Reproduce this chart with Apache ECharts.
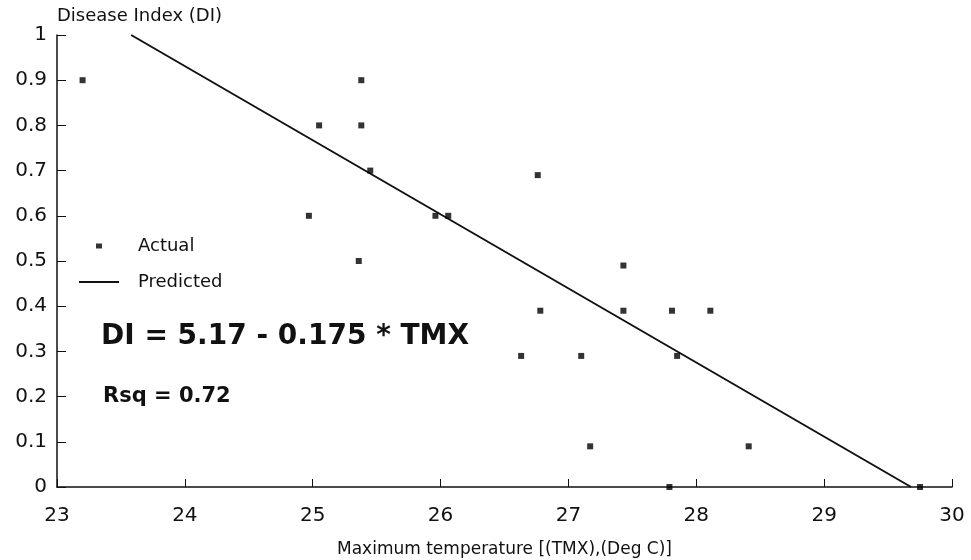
<!DOCTYPE html>
<html>
<head>
<meta charset="utf-8">
<script src="https://cdn.jsdelivr.net/npm/echarts@6/dist/echarts.min.js"></script>
<style>
  html, body { margin: 0; padding: 0; background: #fff; }
  #chart { width: 971px; height: 560px; }
</style>
</head>
<body>
<div id="chart"></div>
<script>
// ---- data ----
const actualTMX = [23.2, 25.05, 25.38, 25.38, 25.45, 24.97, 25.96, 26.06, 26.76, 25.36, 27.43,
                   26.78, 27.43, 27.81, 28.11, 26.63, 27.10, 27.85, 27.17, 28.41, 27.79, 29.75];
const actualDI  = [0.9, 0.8, 0.8, 0.9, 0.7, 0.6, 0.6, 0.6, 0.69, 0.5, 0.49,
                   0.39, 0.39, 0.39, 0.39, 0.29, 0.29, 0.29, 0.09, 0.09, 0, 0];
const predictedTMX = [23.58, 29.68];
const predictedDI  = [1.0, 0];
const xTickLabels = ['23', '24', '25', '26', '27', '28', '29', '30'];
const yTickLabels = ['0', '0.1', '0.2', '0.3', '0.4', '0.5', '0.6', '0.7', '0.8', '0.9', '1'];
const equationText = 'DI = 5.17 - 0.175 * TMX';
const rsqText = 'Rsq = 0.72';

const FONT = 'DejaVu Sans';
const chart = echarts.init(document.getElementById('chart'), null, { renderer: 'canvas' });

const actualData = actualTMX.map((x, i) => [x, actualDI[i]]);
const predictedData = predictedTMX.map((x, i) => [x, predictedDI[i]]);

chart.setOption({
  backgroundColor: '#fff',
  animation: false,
  textStyle: { fontFamily: FONT },
  grid: { left: 57, right: 19, top: 35, bottom: 73, containLabel: false, outerBoundsMode: 'none' },
  xAxis: {
    type: 'value', min: 23, max: 30, interval: 1,
    name: 'Maximum temperature [(TMX),(Deg C)]',
    nameLocation: 'middle', nameGap: 54,
    nameTextStyle: { fontFamily: FONT, fontSize: 17, color: '#111' },
    axisLine: { show: true, onZero: false, lineStyle: { color: '#111', width: 1.5 } },
    axisTick: { show: true, inside: true, length: 8, lineStyle: { color: '#111', width: 1 } },
    axisLabel: {
      show: true, margin: 19, fontFamily: FONT, fontSize: 20, color: '#111',
      formatter: v => xTickLabels[Math.round(v - 23)]
    },
    splitLine: { show: false }
  },
  yAxis: {
    type: 'value', min: 0, max: 1, interval: 0.1,
    name: 'Disease Index (DI)',
    nameLocation: 'end', nameGap: 19,
    nameTextStyle: { fontFamily: FONT, fontSize: 18, color: '#111', align: 'left', verticalAlign: 'middle' },
    axisLine: { show: true, onZero: false, lineStyle: { color: '#111', width: 1.5 } },
    axisTick: { show: true, inside: true, length: 9, lineStyle: { color: '#111', width: 1 } },
    axisLabel: {
      show: true, margin: 10, fontFamily: FONT, fontSize: 20, color: '#111',
      formatter: v => yTickLabels[Math.round(v * 10)]
    },
    splitLine: { show: false }
  },
  legend: [
    {
      data: ['Actual'], orient: 'vertical', left: 96, top: 237, padding: 0,
      itemWidth: 6, itemHeight: 5,
      textStyle: { fontFamily: FONT, fontSize: 18, color: '#111', padding: [0, 0, 0, 31] }
    },
    {
      data: ['Predicted'], orient: 'vertical', left: 78, top: 273, padding: 0,
      itemWidth: 40, itemHeight: 14,
      itemStyle: { opacity: 0 },
      lineStyle: { color: '#111', width: 2, opacity: 1 },
      textStyle: { fontFamily: FONT, fontSize: 18, color: '#111', padding: [0, 0, 0, 14] }
    }
  ],
  series: [
    {
      name: 'Predicted', type: 'line', data: predictedData,
      symbol: 'none', showSymbol: false,
      lineStyle: { color: '#111', width: 2 }, itemStyle: { color: '#111' },
      z: 2
    },
    {
      name: 'Actual', type: 'scatter', data: actualData,
      symbol: 'rect', symbolSize: 6, itemStyle: { color: '#000' }, z: 3
    }
  ],
  graphic: [
    {
      type: 'text', left: 101, top: 323,
      style: { text: equationText, font: 'bold 28px "' + FONT + '"', fill: '#111' }
    },
    {
      type: 'text', left: 103, top: 386,
      style: { text: rsqText, font: 'bold 21px "' + FONT + '"', fill: '#111' }
    }
  ]
});
</script>
</body>
</html>
